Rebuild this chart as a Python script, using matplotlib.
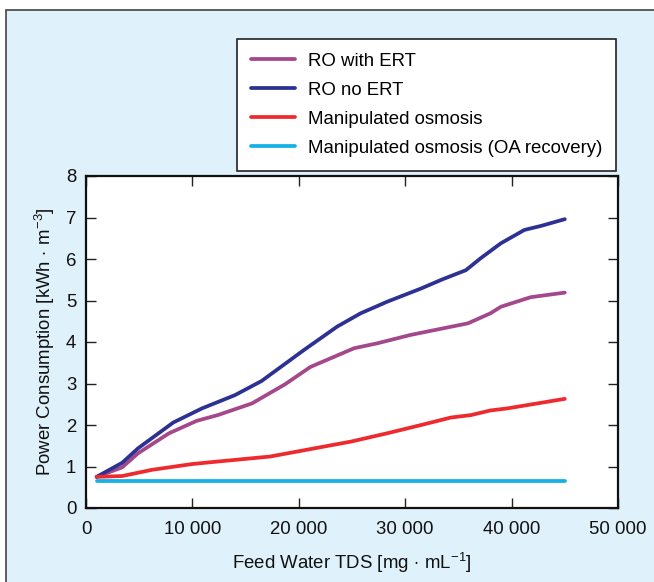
import numpy as np
import matplotlib
matplotlib.use('Agg')
from matplotlib import pyplot as plt
from matplotlib.patches import Rectangle
from matplotlib.ticker import FuncFormatter

plt.rcParams['font.family'] = ['Liberation Sans', 'DejaVu Sans']
plt.rcParams['mathtext.fontset'] = 'custom'
plt.rcParams['mathtext.rm'] = 'Liberation Sans'
plt.rcParams['mathtext.it'] = 'Liberation Sans:italic'

# values
x_ro_ert = [1000, 3400, 4900, 7800, 10400, 12400, 15600, 18700, 21100, 25200, 27400,
            30500, 33000, 35900, 38000, 39000, 41800, 45000]
y_ro_ert = [0.75, 0.98, 1.32, 1.80, 2.10, 2.24, 2.52, 2.98, 3.40, 3.85, 3.97,
            4.17, 4.30, 4.45, 4.69, 4.85, 5.08, 5.19]

x_ro_no = [1000, 3400, 4900, 8200, 10900, 14000, 16500, 20500, 23600, 25800, 28300,
           31500, 33500, 35700, 37100, 39000, 41200, 42800, 45000]
y_ro_no = [0.75, 1.09, 1.44, 2.06, 2.40, 2.72, 3.06, 3.81, 4.37, 4.69, 4.97,
           5.29, 5.51, 5.73, 6.02, 6.38, 6.70, 6.80, 6.96]

x_mo = [1000, 3400, 6200, 10000, 12400, 17300, 21100, 24900, 28300, 31500, 34300,
        36200, 38000, 39600, 45000]
y_mo = [0.75, 0.77, 0.92, 1.06, 1.12, 1.24, 1.42, 1.60, 1.80, 2.00, 2.18,
        2.24, 2.35, 2.40, 2.63]

x_oa = [1000, 45000]
y_oa = [0.65, 0.65]

labels = ['RO with ERT', 'RO no ERT', 'Manipulated osmosis',
          'Manipulated osmosis (OA recovery)']
colors = ['#a4488c', '#2d3192', '#ee2a2e', '#14b1e7']

fs = 13.4

fig = plt.figure(figsize=(6.54, 5.82), dpi=100)
fig.patch.set_facecolor('white')
fig.patches.append(Rectangle((6/654, -0.01), 1.0, 1 - 10/582 + 0.01,
                             transform=fig.transFigure, facecolor='#dff1fa',
                             edgecolor='#444444', lw=1.2, zorder=-10))

ax = fig.add_axes([86/654, 74/582, 532/654, 332/582])
ax.set_facecolor('white')
lines = []
for xs, ys, c, lab in zip([x_ro_ert, x_ro_no, x_mo, x_oa],
                          [y_ro_ert, y_ro_no, y_mo, y_oa], colors, labels):
    l, = ax.plot(xs, ys, color=c, lw=2.7, label=lab,
                 solid_capstyle='round', solid_joinstyle='round')
    lines.append(l)

ax.set_xlim(0, 50000)
ax.set_ylim(0, 8)
ax.set_xticks(np.arange(0, 50001, 10000))
ax.set_yticks(np.arange(0, 9, 1))
ax.xaxis.set_major_formatter(FuncFormatter(lambda v, p: '0' if v == 0 else f'{int(v):,}'.replace(',', ' ')))
ax.tick_params(direction='in', top=True, right=True, length=7.5, width=1,
               labelsize=fs, colors='#222222', labelcolor='#111111')
ax.tick_params(axis='y', pad=7)
ax.tick_params(axis='x', pad=9)
for s in ax.spines.values():
    s.set_linewidth(1.6)
    s.set_color('#111111')

ax.set_xlabel(r'Feed Water TDS [mg$\,\cdot\,$mL$^{-1}$]', fontsize=fs, labelpad=10, color='#111111')
ax.set_ylabel(r'Power Consumption [kWh$\,\cdot\,$m$^{-3}$]', fontsize=fs, labelpad=6, color='#111111')

leg = fig.legend(handles=lines, loc='upper left', bbox_to_anchor=(237/654, 1 - 39/582),
                 fontsize=fs, frameon=True, fancybox=False, edgecolor='#222222',
                 framealpha=1, handlelength=2.35, handletextpad=0.72, labelspacing=0.64,
                 borderpad=0.75, borderaxespad=0)
leg.get_frame().set_linewidth(1.2)
leg.get_frame().set_facecolor('white')

fig.savefig('out.png', dpi=100)
